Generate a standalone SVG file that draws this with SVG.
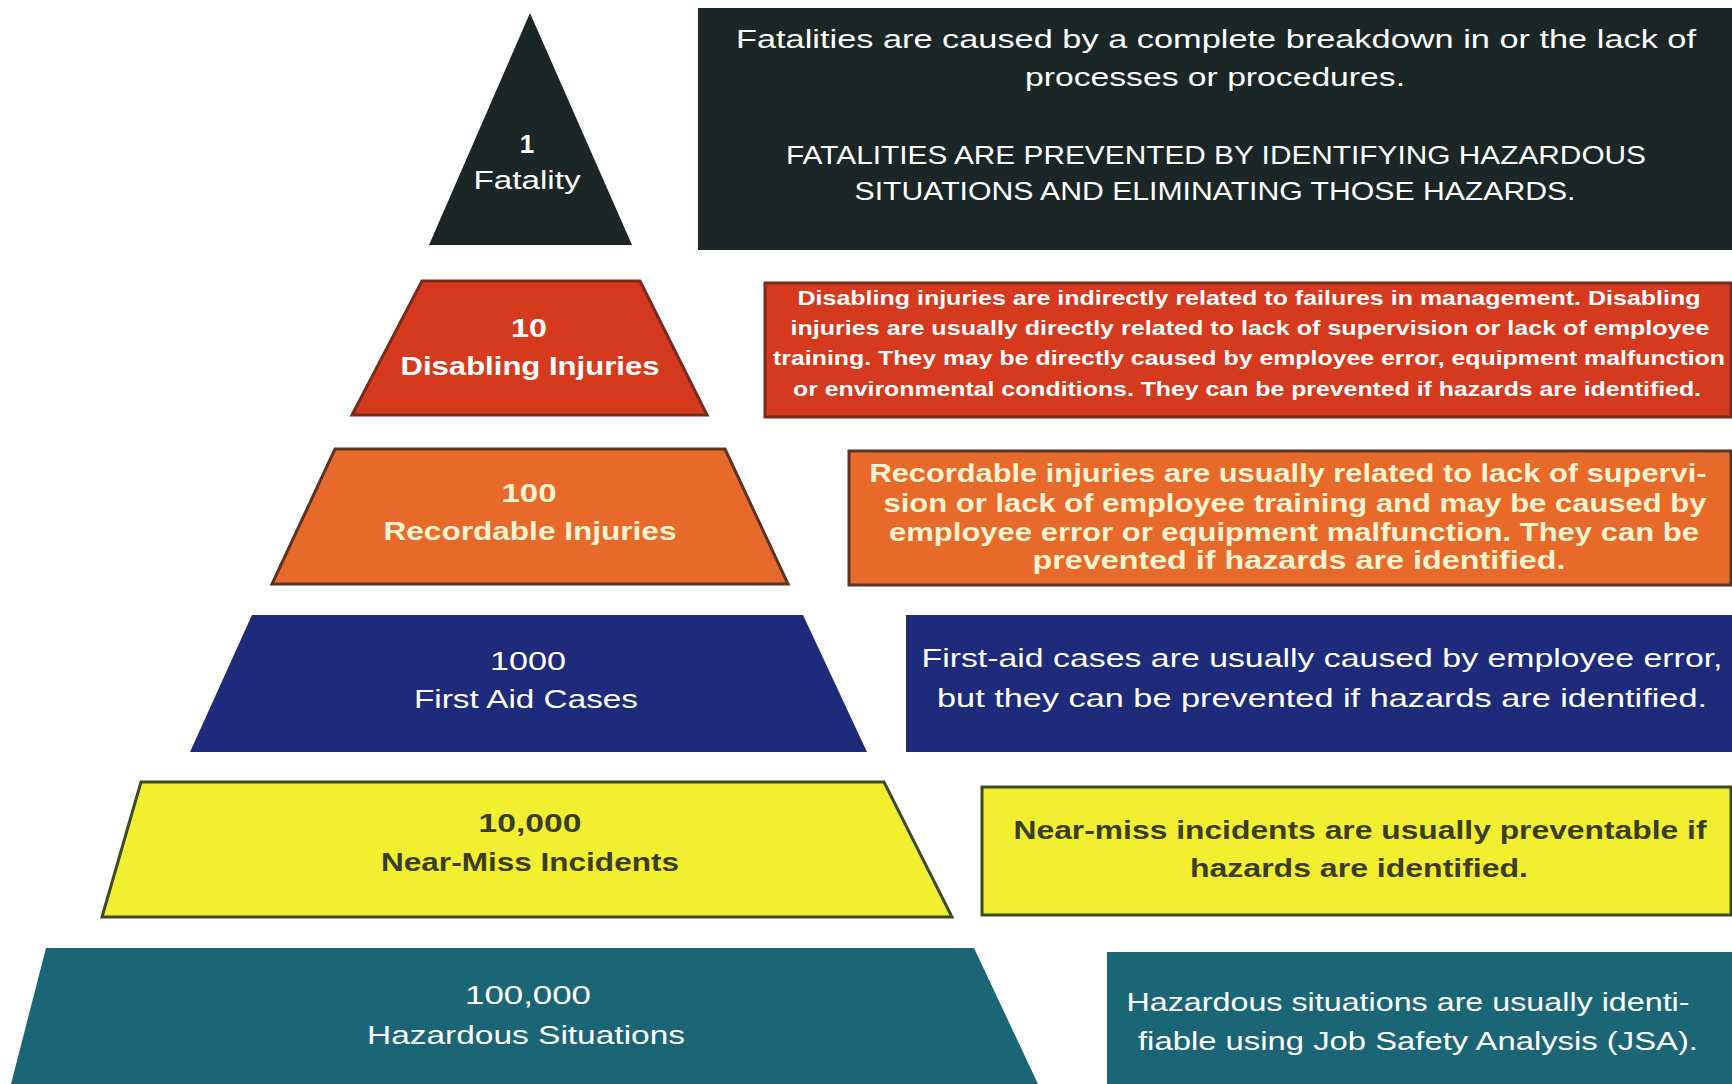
<svg xmlns="http://www.w3.org/2000/svg" width="1732" height="1084" viewBox="0 0 1732 1084">
<style>
text{font-family:"Liberation Sans",Arial,sans-serif;text-anchor:middle}
.lbl{font-size:26px;fill:#ffffff}
.b{font-weight:bold}
.desc{font-size:26px;fill:#ffffff}
.sm{font-size:21px}
.dark{fill:#1b2626}
.red{fill:#d63a1e;stroke:#7a2a1a;stroke-width:3}
.org{fill:#e76a2b;stroke:#5a3322;stroke-width:3}
.blu{fill:#1e2a7a}
.yel{fill:#f1ef30;stroke:#3d4a22;stroke-width:3}
.tea{fill:#1b6676}
</style>
<rect width="1732" height="1084" fill="#ffffff"/>

<g id="level-fatality">
<polygon class="dark" points="530,13 429,245 632,245"/>
<text class="lbl b" x="527" y="153">1</text>
<text class="lbl" x="527" y="189" textLength="107" lengthAdjust="spacingAndGlyphs">Fatality</text>
</g>
<g id="desc-fatality">
<rect class="dark" x="698" y="8" width="1034" height="242"/>
<text class="desc" x="1216" y="48" textLength="960" lengthAdjust="spacingAndGlyphs">Fatalities are caused by a complete breakdown in or the lack of</text>
<text class="desc" x="1215" y="86" textLength="380" lengthAdjust="spacingAndGlyphs">processes or procedures.</text>
<text class="desc" x="1216" y="164" textLength="860" lengthAdjust="spacingAndGlyphs">FATALITIES ARE PREVENTED BY IDENTIFYING HAZARDOUS</text>
<text class="desc" x="1215" y="200" textLength="721" lengthAdjust="spacingAndGlyphs">SITUATIONS AND ELIMINATING THOSE HAZARDS.</text>
</g>

<g id="level-disabling">
<polygon class="red" points="422,281 640,281 707,415 352,415"/>
<text class="lbl b" x="529" y="337" textLength="36" lengthAdjust="spacingAndGlyphs">10</text>
<text class="lbl b" x="530" y="375" textLength="259" lengthAdjust="spacingAndGlyphs">Disabling Injuries</text>
</g>
<g id="desc-disabling">
<rect class="red" x="765" y="283" width="966" height="134"/>
<text class="desc sm b" x="1249" y="305" textLength="903" lengthAdjust="spacingAndGlyphs">Disabling injuries are indirectly related to failures in management. Disabling</text>
<text class="desc sm b" x="1250" y="335" textLength="919" lengthAdjust="spacingAndGlyphs">injuries are usually directly related to lack of supervision or lack of employee</text>
<text class="desc sm b" x="1249" y="365" textLength="952" lengthAdjust="spacingAndGlyphs">training. They may be directly caused by employee error, equipment malfunction</text>
<text class="desc sm b" x="1247" y="396" textLength="908" lengthAdjust="spacingAndGlyphs">or environmental conditions. They can be prevented if hazards are identified.</text>
</g>

<g id="level-recordable">
<polygon class="org" points="335,449 725,449 788,584 272,584"/>
<text class="lbl b" x="529" y="502" style="fill:#fff3d2" textLength="55" lengthAdjust="spacingAndGlyphs">100</text>
<text class="lbl b" x="530" y="540" style="fill:#fff3d2" textLength="293" lengthAdjust="spacingAndGlyphs">Recordable Injuries</text>
</g>
<g id="desc-recordable">
<rect class="org" x="849" y="451" width="882" height="134"/>
<text class="desc b" x="1288" y="482" style="fill:#fff3d2" textLength="837" lengthAdjust="spacingAndGlyphs">Recordable injuries are usually related to lack of supervi-</text>
<text class="desc b" x="1295" y="512" style="fill:#fff3d2" textLength="823" lengthAdjust="spacingAndGlyphs">sion or lack of employee training and may be caused by</text>
<text class="desc b" x="1294" y="541" style="fill:#fff3d2" textLength="810" lengthAdjust="spacingAndGlyphs">employee error or equipment malfunction.  They can be</text>
<text class="desc b" x="1299" y="569" style="fill:#fff3d2" textLength="533" lengthAdjust="spacingAndGlyphs">prevented if hazards are identified.</text>
</g>

<g id="level-firstaid">
<polygon class="blu" points="252,615 803,615 867,752 190,752"/>
<text class="lbl" x="528" y="670" textLength="76" lengthAdjust="spacingAndGlyphs">1000</text>
<text class="lbl" x="526" y="708" textLength="224" lengthAdjust="spacingAndGlyphs">First Aid Cases</text>
</g>
<g id="desc-firstaid">
<rect class="blu" x="906" y="615" width="826" height="137"/>
<text class="desc" x="1322" y="667" textLength="801" lengthAdjust="spacingAndGlyphs">First-aid cases are usually caused by employee error,</text>
<text class="desc" x="1322" y="707" textLength="770" lengthAdjust="spacingAndGlyphs">but they can be prevented if hazards are identified.</text>
</g>

<g id="level-nearmiss">
<polygon class="yel" points="141,782 884,782 952,917 102,917"/>
<text class="lbl b" x="530" y="832" style="fill:#3b3d1e" textLength="103" lengthAdjust="spacingAndGlyphs">10,000</text>
<text class="lbl b" x="530" y="871" style="fill:#3b3d1e" textLength="298" lengthAdjust="spacingAndGlyphs">Near-Miss Incidents</text>
</g>
<g id="desc-nearmiss">
<rect class="yel" x="982" y="787" width="749" height="128"/>
<text class="desc b" x="1360" y="839" style="fill:#3b3d1e" textLength="693" lengthAdjust="spacingAndGlyphs">Near-miss incidents are usually preventable if</text>
<text class="desc b" x="1359" y="877" style="fill:#3b3d1e" textLength="338" lengthAdjust="spacingAndGlyphs">hazards are identified.</text>
</g>

<g id="level-hazardous">
<polygon class="tea" points="46,948 974,948 1038,1084 11,1084"/>
<text class="lbl" x="528" y="1004" textLength="126" lengthAdjust="spacingAndGlyphs">100,000</text>
<text class="lbl" x="526" y="1044" textLength="318" lengthAdjust="spacingAndGlyphs">Hazardous Situations</text>
</g>
<g id="desc-hazardous">
<rect class="tea" x="1107" y="952" width="625" height="132"/>
<text class="desc" x="1408" y="1011" textLength="563" lengthAdjust="spacingAndGlyphs">Hazardous situations are usually identi-</text>
<text class="desc" x="1418" y="1050" textLength="560" lengthAdjust="spacingAndGlyphs">fiable using Job Safety Analysis (JSA).</text>
</g>
</svg>
